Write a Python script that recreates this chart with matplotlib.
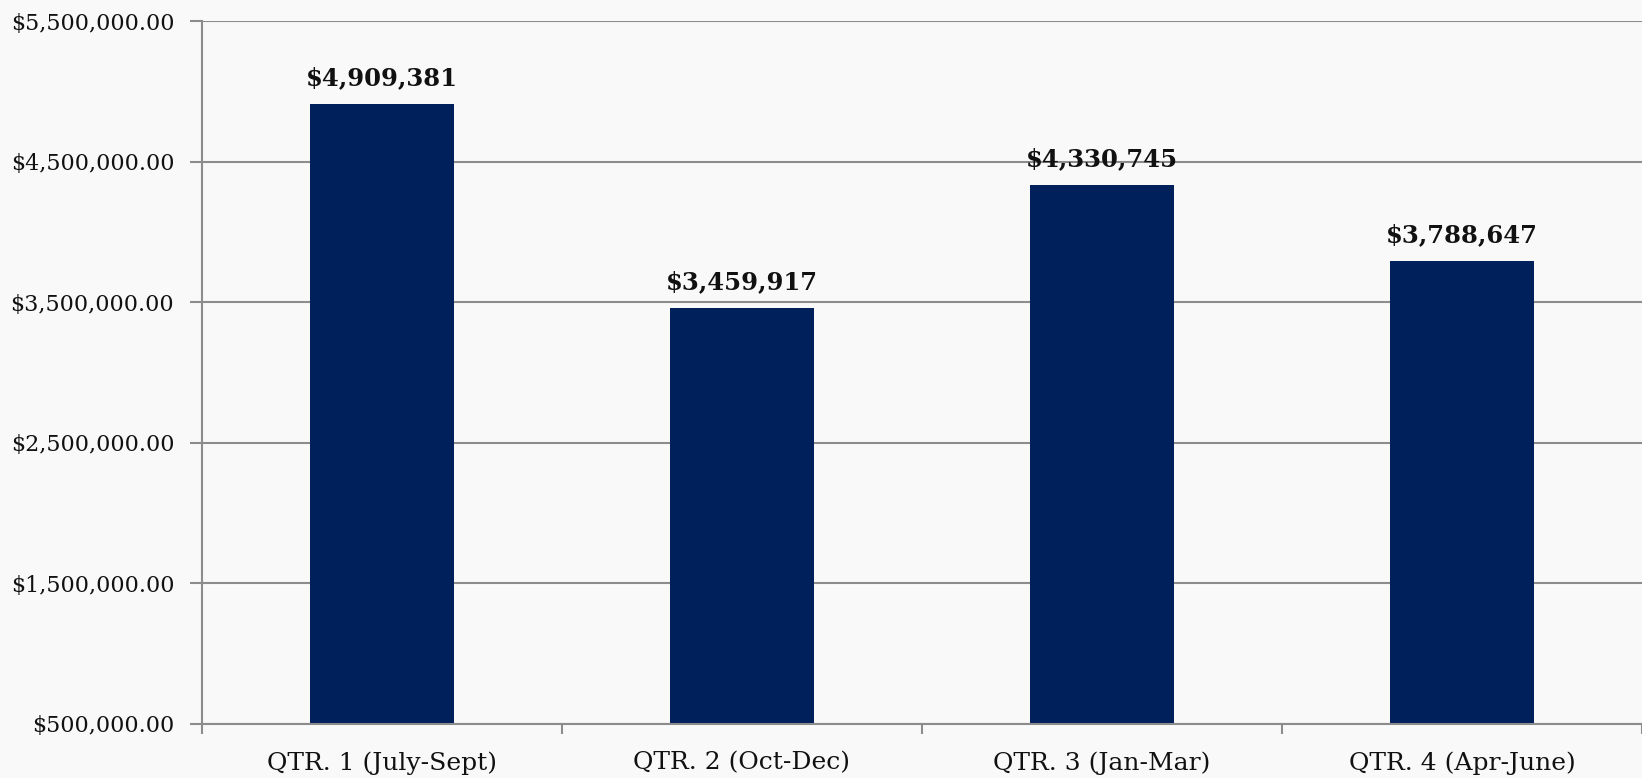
import numpy as np
import matplotlib.pyplot as plt

# quarterly totals
quarters = ['QTR. 1 (July-Sept)', 'QTR. 2 (Oct-Dec)', 'QTR. 3 (Jan-Mar)', 'QTR. 4 (Apr-June)']
totals = [4909381, 3459917, 4330745, 3788647]
y_ticks = [500000, 1500000, 2500000, 3500000, 4500000, 5500000]

plt.rcParams['font.family'] = ['DejaVu Serif']
bg = '#f9f9f9'
grid_col = '#8c8c8c'

fig = plt.figure(figsize=(16.42, 7.78), dpi=100, facecolor=bg)
ax = fig.add_axes([0.123, 0.07, 0.877, 0.903], facecolor=bg)

x = np.arange(len(quarters))
ax.bar(x, [v - y_ticks[0] for v in totals], bottom=y_ticks[0], width=0.4,
       color='#00205b', zorder=3)

for xi, v in zip(x, totals):
    ax.annotate('${:,}'.format(v), (xi, v), xytext=(0, 10), textcoords='offset points',
                ha='center', va='bottom', fontsize=17.5, fontweight='bold', color='#111111')

ax.set_ylim(y_ticks[0], y_ticks[-1])
ax.set_xlim(-0.5, len(quarters) - 0.5)
ax.set_yticks(y_ticks)
ax.set_yticklabels(['${:,.2f}'.format(t) for t in y_ticks])
ax.yaxis.grid(True, color=grid_col, linewidth=1.5, zorder=0)

ax.set_xticks(x)
ax.set_xticklabels(quarters)
ax.set_xticks(np.arange(-0.5, len(quarters)), minor=True)
ax.tick_params(axis='x', which='major', length=0, pad=20, labelsize=18, colors='#111111')
ax.tick_params(axis='x', which='minor', length=7, width=1.5, color=grid_col)
ax.tick_params(axis='y', length=9, width=1.5, color=grid_col, pad=11, labelsize=16,
               labelcolor='#111111')

for s in ['top', 'right']:
    ax.spines[s].set_visible(False)
for s in ['left', 'bottom']:
    ax.spines[s].set_color(grid_col)
    ax.spines[s].set_linewidth(1.5)
ax.spines['bottom'].set_zorder(4)

fig.savefig('out.png', dpi=100, facecolor=bg)
